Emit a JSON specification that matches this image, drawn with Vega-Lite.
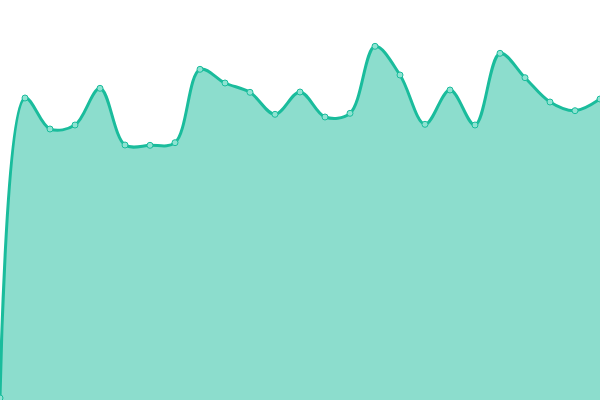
{
  "$schema": "https://vega.github.io/schema/vega-lite/v6.json",
  "width": 600,
  "height": 400,
  "padding": 0,
  "autosize": {"type": "none"},
  "config": {"view": {"stroke": null}},
  "data": {"values": [
    {"i": 0, "v": 2},
    {"i": 1, "v": 302},
    {"i": 2, "v": 271},
    {"i": 3, "v": 275},
    {"i": 4, "v": 311.7},
    {"i": 5, "v": 255},
    {"i": 6, "v": 254.7},
    {"i": 7, "v": 257.3},
    {"i": 8, "v": 330.7},
    {"i": 9, "v": 317},
    {"i": 10, "v": 307.7},
    {"i": 11, "v": 285.7},
    {"i": 12, "v": 308},
    {"i": 13, "v": 283},
    {"i": 14, "v": 286.7},
    {"i": 15, "v": 353.7},
    {"i": 16, "v": 325},
    {"i": 17, "v": 275.7},
    {"i": 18, "v": 310},
    {"i": 19, "v": 275},
    {"i": 20, "v": 346.7},
    {"i": 21, "v": 322.3},
    {"i": 22, "v": 298},
    {"i": 23, "v": 289.3},
    {"i": 24, "v": 301}
  ]},
  "encoding": {
    "x": {"field": "i", "type": "quantitative", "axis": null, "scale": {"domain": [0, 24], "nice": false, "zero": false}},
    "y": {"field": "v", "type": "quantitative", "axis": null, "scale": {"domain": [0, 400], "nice": false}}
  },
  "layer": [
    {"mark": {"type": "area", "interpolate": "catmull-rom", "color": "#1abc9c", "fillOpacity": 0.5}},
    {"mark": {"type": "line", "interpolate": "catmull-rom", "color": "#1abc9c", "strokeWidth": 3}},
    {"mark": {"type": "point", "filled": true, "fill": "#8fe3d2", "stroke": "#1abc9c", "strokeWidth": 1, "size": 36, "opacity": 1}}
  ]
}
